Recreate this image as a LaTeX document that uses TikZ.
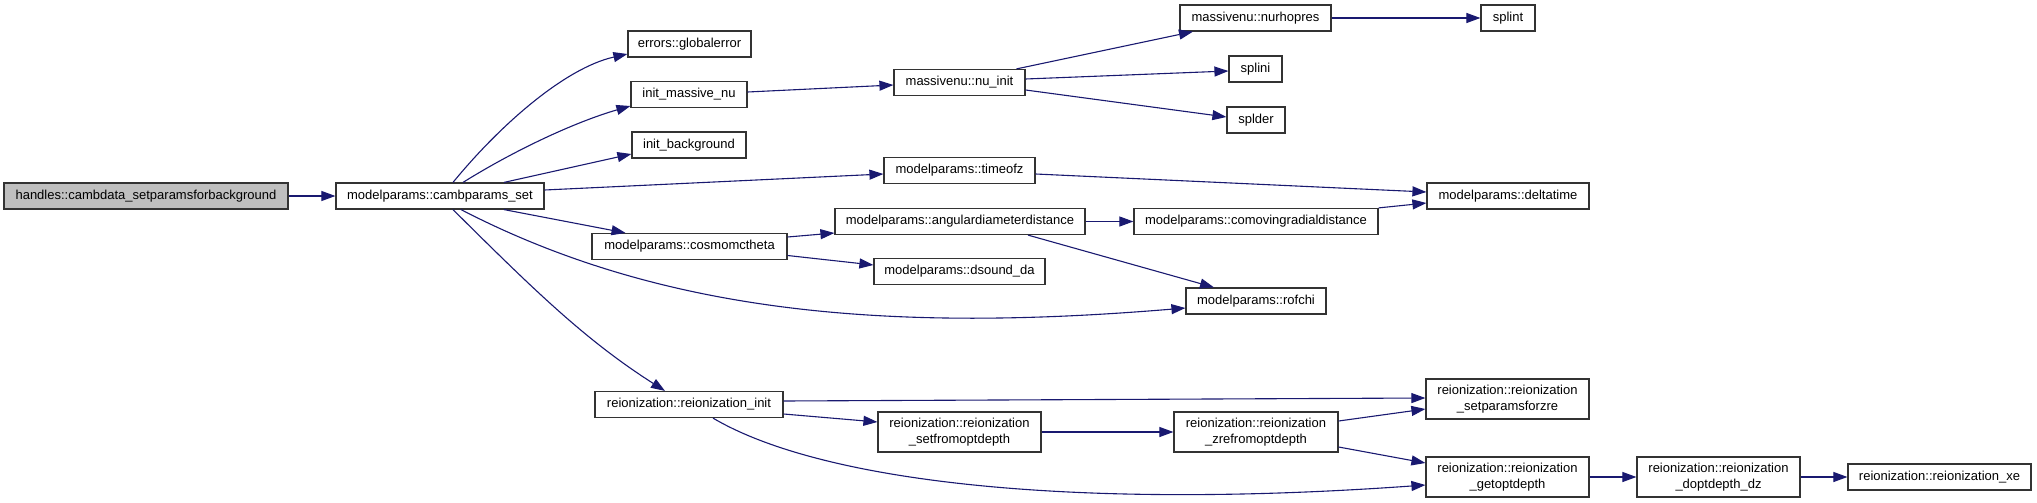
\documentclass[tikz,border=0pt]{standalone}
\usepackage{fontspec}
\setmainfont{Liberation Sans}
\usetikzlibrary{arrows.meta}
\definecolor{edgeblue}{RGB}{25,25,112}
\definecolor{boxgray}{RGB}{191,191,191}
\tikzset{
  fn/.style={draw=black!80, line width=1.2pt, fill=white, inner sep=0pt, align=center,
    font=\fontsize{13}{15.5}\selectfont},
  cur/.style={fn, fill=boxgray},
  call/.style={draw=edgeblue, line width=1.1pt, -{Triangle[length=14pt,width=10pt]}, edgeblue}
}
\begin{document}
\begin{tikzpicture}[x=1pt,y=-1pt]
\useasboundingbox (0,0) rectangle (2037,503);
% nodes
\node[cur, minimum width=284, minimum height=26] (handles) at (146,196) {handles::cambdata\_setparamsforbackground};
\node[fn, minimum width=208, minimum height=26] (camb) at (440,196) {modelparams::cambparams\_set};
\node[fn, minimum width=123, minimum height=26] (glob) at (689.5,44) {errors::globalerror};
\node[fn, minimum width=116, minimum height=26] (imn) at (689,94.5) {init\_massive\_nu};
\node[fn, minimum width=114, minimum height=26] (ibg) at (689,145) {init\_background};
\node[fn, minimum width=151, minimum height=26] (timeofz) at (959.5,170.5) {modelparams::timeofz};
\node[fn, minimum width=195, minimum height=26] (cosmo) at (689.5,246.5) {modelparams::cosmomctheta};
\node[fn, minimum width=188, minimum height=26] (reinit) at (689,404.5) {reionization::reionization\_init};
\node[fn, minimum width=131, minimum height=26] (nuinit) at (959.5,82.5) {massivenu::nu\_init};
\node[fn, minimum width=250, minimum height=26] (angdd) at (960,221.5) {modelparams::angulardiameterdistance};
\node[fn, minimum width=171, minimum height=26] (dsound) at (959.5,271.5) {modelparams::dsound\_da};
\node[fn, minimum width=163, minimum height=40] (setfrom) at (959.5,432) {reionization::reionization\\\_setfromoptdepth};
\node[fn, minimum width=151, minimum height=26] (nurho) at (1255.5,18) {massivenu::nurhopres};
\node[fn, minimum width=53, minimum height=26] (splini) at (1255.5,69) {splini};
\node[fn, minimum width=58, minimum height=26] (splder) at (1256,120) {splder};
\node[fn, minimum width=244, minimum height=26] (comov) at (1256,221.5) {modelparams::comovingradialdistance};
\node[fn, minimum width=140, minimum height=26] (rofchi) at (1256,301) {modelparams::rofchi};
\node[fn, minimum width=164, minimum height=40] (zref) at (1256,432) {reionization::reionization\\\_zrefromoptdepth};
\node[fn, minimum width=54, minimum height=26] (splint) at (1508,18) {splint};
\node[fn, minimum width=162, minimum height=26] (delta) at (1508,196) {modelparams::deltatime};
\node[fn, minimum width=163, minimum height=40] (setparz) at (1507.5,399) {reionization::reionization\\\_setparamsforzre};
\node[fn, minimum width=163, minimum height=40] (getopt) at (1507.5,477) {reionization::reionization\\\_getoptdepth};
\node[fn, minimum width=163, minimum height=40] (dopt) at (1718.5,477) {reionization::reionization\\\_doptdepth\_dz};
\node[fn, minimum width=183, minimum height=26] (xe) at (1939.5,477) {reionization::reionization\_xe};
% edges
\draw[call] (handles.east) -- (camb.west);
\draw[call] ([xshift=13pt]camb.north) .. controls (500,125) and (565,68) .. ([yshift=-10pt]glob.west);
\draw[call] ([xshift=23pt]camb.north) .. controls (515,150) and (575,122) .. ([yshift=-11.5pt]imn.west);
\draw[call] ([xshift=64pt]camb.north) -- ([yshift=-9pt]ibg.west);
\draw[call] ([yshift=6pt]camb.east) -- ([yshift=-3.5pt]timeofz.west);
\draw[call] ([xshift=64pt]camb.south) -- ([xshift=-64pt]cosmo.north);
\draw[call] ([xshift=21pt]camb.south) .. controls (661,313) and (886,333) .. ([yshift=-7pt]rofchi.west);
\draw[call] ([xshift=13pt]camb.south) .. controls (533,289) and (585,340) .. ([xshift=-24pt]reinit.north);
\draw[call] ([yshift=2.5pt]imn.east) -- ([yshift=-2.5pt]nuinit.west);
\draw[call] ([xshift=57pt]nuinit.north) -- ([xshift=-62.5pt]nurho.south);
\draw[call] ([yshift=3.5pt]nuinit.east) -- ([yshift=-2pt]splini.west);
\draw[call] ([yshift=-7.5pt]nuinit.east) -- ([yshift=3pt]splder.west);
\draw[call] (nurho.east) -- (splint.west);
\draw[call] ([yshift=-3.5pt]timeofz.east) -- ([yshift=4pt]delta.west);
\draw[call] (comov.north east) -- ([yshift=-7pt]delta.west);
\draw[call] (angdd.east) -- (comov.west);
\draw[call] ([xshift=68pt]angdd.south) -- ([xshift=-42pt]rofchi.north);
\draw[call] ([yshift=9.5pt]cosmo.east) -- ([yshift=-11.5pt]angdd.west);
\draw[call] ([yshift=-9pt]cosmo.east) -- ([yshift=6.5pt]dsound.west);
\draw[call] ([yshift=3.5pt]reinit.east) -- ([yshift=1pt]setparz.west);
\draw[call] ([yshift=-9.5pt]reinit.east) -- ([yshift=10pt]setfrom.west);
\draw[call] ([xshift=24pt]reinit.south) .. controls (823,483) and (1076,510) .. ([yshift=-8pt]getopt.west);
\draw[call] (setfrom.east) -- (zref.west);
\draw[call] ([yshift=11pt]zref.east) -- ([yshift=-10pt]setparz.west);
\draw[call] ([yshift=-15pt]zref.east) -- ([yshift=14pt]getopt.west);
\draw[call] (getopt.east) -- (dopt.west);
\draw[call] (dopt.east) -- (xe.west);
\end{tikzpicture}
\end{document}
